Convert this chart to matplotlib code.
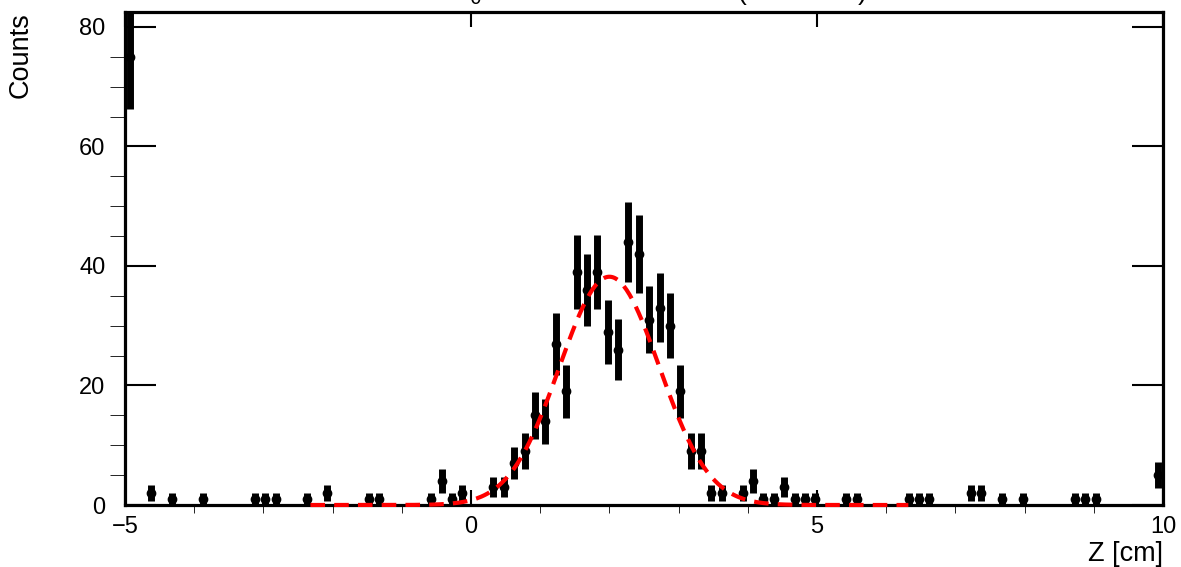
import numpy as np
import matplotlib.pyplot as plt

plt.rcParams['font.family'] = ['Liberation Sans', 'DejaVu Sans']

# histogram: 100 bins of 0.15 cm from -5 to 10
x_min, x_max, n_bins = -5.0, 10.0, 100
bin_index = [0, 2, 4, 7, 12, 13, 14, 17, 19, 23, 24, 29, 30, 31, 32, 35, 36, 37, 38,
             39, 40, 41, 42, 43, 44, 45, 46, 47, 48, 49, 50, 51, 52, 53, 54, 55, 56,
             57, 59, 60, 61, 62, 63, 64, 65, 66, 69, 70, 75, 76, 77, 81, 82, 84, 86,
             91, 92, 93, 99]
bin_counts = [75, 2, 1, 1, 1, 1, 1, 1, 2, 1, 1, 1, 4, 1, 2, 3, 3, 7, 9,
              15, 14, 27, 19, 39, 36, 39, 29, 26, 44, 42, 31, 33, 30, 19, 9, 9, 2,
              2, 2, 4, 1, 1, 3, 1, 1, 1, 1, 1, 1, 1, 1, 2, 2, 1, 1,
              1, 1, 1, 5]

# gaussian fit result
fit_amp, fit_mean, fit_sigma = 38.2, 2.0, 0.72

width = (x_max - x_min) / n_bins
centers = x_min + width * (np.array(bin_index) + 0.5)
counts = np.array(bin_counts, dtype=float)

fig = plt.figure(figsize=(11.81, 5.67), dpi=100)
ax = fig.add_axes([125 / 1181, 62 / 567, 1038 / 1181, 493 / 567])

ax.errorbar(centers, counts, yerr=np.sqrt(counts), fmt='o', color='black',
            ms=6, elinewidth=5, capsize=0, zorder=3)

xf = np.linspace(fit_mean - 6 * fit_sigma, fit_mean + 6 * fit_sigma, 400)
yf = fit_amp * np.exp(-0.5 * ((xf - fit_mean) / fit_sigma) ** 2)
ax.plot(xf, yf, color='red', lw=3, ls=(0, (3.5, 2.2)), zorder=4, clip_on=False)

ax.set_xlim(x_min, x_max)
ax.set_ylim(0, 82.5)
ax.set_xticks([-5, 0, 5, 10])
ax.set_xticks(np.arange(-5, 11, 1), minor=True)
ax.set_yticks([0, 20, 40, 60, 80])
ax.set_yticks(np.arange(0, 85, 5), minor=True)

ax.tick_params(direction='in', top=True, right=True, labelsize=17, width=1.5, color='black')
ax.tick_params(axis='x', which='major', length=11, pad=8)
ax.tick_params(axis='x', which='minor', length=5.5)
ax.tick_params(axis='y', which='major', length=22, pad=14)
ax.tick_params(axis='y', which='minor', length=11)
for s in ax.spines.values():
    s.set_linewidth(2.3)

ax.set_xlabel('Z [cm]', loc='right', fontsize=19.5, labelpad=2)
ax.set_ylabel('Counts', loc='top', fontsize=19.5, labelpad=33)

# title sits mostly above the canvas
fig.text(0.2336, 1.0, r'Reconstructed Z$_0$ of simulated vertices (all events)',
         fontsize=19, ha='left', va='baseline')

fig.savefig('out.png', dpi=100)
